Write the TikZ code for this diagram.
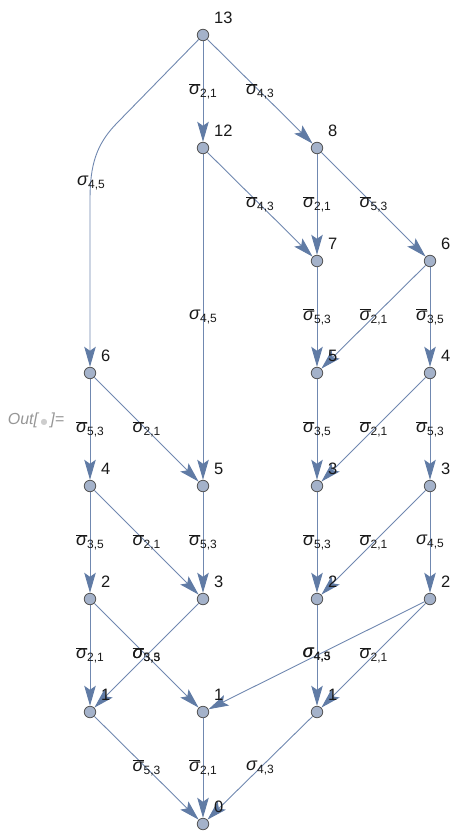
\documentclass[tikz,border=0pt]{standalone}
\usepackage{fontspec}
\setmainfont{Liberation Sans}
\newfontfamily\symfont{DejaVu Sans}
\usetikzlibrary{arrows.meta}

\definecolor{ecol}{RGB}{112,136,176}
\definecolor{acol}{RGB}{96,123,165}
\definecolor{vfill}{RGB}{164,178,202}
\definecolor{vline}{RGB}{85,85,85}
\definecolor{txt}{RGB}{25,25,25}
\definecolor{outgray}{RGB}{150,150,150}
\definecolor{dotgray}{RGB}{205,205,205}

% sigma labels: plain and barred, with a sans subscript
\newcommand\sigsub[1]{{\fontsize{12}{12}\selectfont\raisebox{-3pt}{#1}}}
\newcommand\osig[1]{$\overline{\mbox{\itshape σ}}$\sigsub{#1}}
\newcommand\psig[1]{{\itshape σ}\sigsub{#1}}

\tikzset{
  vtxspot/.style={circle, minimum size=12pt, inner sep=0pt, draw=none},
  vtxdisc/.style={circle, minimum size=11.5pt, inner sep=0pt, fill=vfill, draw=vline, line width=0.8pt},
  edge/.style={draw=ecol, line width=0.9pt,
    -{Stealth[length=20pt, width=11.5pt, inset=4pt, color=acol]}},
  elabel/.style={font=\fontsize{18}{18}\selectfont, inner sep=0pt, text=txt},
  vlabel/.style={font=\fontsize{16.5}{16.5}\selectfont, inner sep=0pt, anchor=south west, text=txt},
}

\begin{document}
\begin{tikzpicture}[x=1pt, y=-1pt]
\useasboundingbox (0,0) rectangle (451,834);

% vertex positions (invisible anchors; discs are drawn last)
\foreach \v/\x/\y in {n13/203/35, n12/203/148, n8/317/148, n7/317/261, n6a/430/261,
    n6b/90/373, n5a/317/373, n4a/430/373, n4b/90/486, n5b/203/486, n3a/317/486,
    n3b/430/486, n2a/90/599, n3c/203/599, n2b/317/599, n2c/430/599, n1a/90/712,
    n1b/203/712, n1c/317/712, n0/203/824}
  \node[vtxspot] (\v) at (\x,\y) {};

\node[font=\fontsize{16}{16}\selectfont\itshape, text=outgray, inner sep=0pt] (out) at (36,420)
  {Out[\,{\symfont\fontsize{8}{8}\selectfont\textcolor{dotgray}{●}}\,]=};

% edges
\draw[edge] (n13) -- node[elabel]{\osig{2,1}} (n12);
\draw[edge] (n13) -- node[elabel]{\osig{4,3}} (n8);
\draw[edge] (n13) -- (118,122) .. controls (96,144) and (90,165) .. (90,200) -- (n6b);
\node[elabel] (lab45) at (91,183) {\psig{4,5}};

\draw[edge] (n12) -- node[elabel]{\psig{4,5}} (n5b);
\draw[edge] (n12) -- node[elabel]{\osig{4,3}} (n7);
\draw[edge] (n8) -- node[elabel]{\osig{2,1}} (n7);
\draw[edge] (n8) -- node[elabel]{\osig{5,3}} (n6a);

\draw[edge] (n7) -- node[elabel]{\osig{5,3}} (n5a);
\draw[edge] (n6a) -- node[elabel]{\osig{2,1}} (n5a);
\draw[edge] (n6a) -- node[elabel]{\osig{3,5}} (n4a);

\draw[edge] (n6b) -- node[elabel]{\osig{5,3}} (n4b);
\draw[edge] (n6b) -- node[elabel]{\osig{2,1}} (n5b);
\draw[edge] (n5a) -- node[elabel]{\osig{3,5}} (n3a);
\draw[edge] (n4a) -- node[elabel]{\osig{2,1}} (n3a);
\draw[edge] (n4a) -- node[elabel]{\osig{5,3}} (n3b);

\draw[edge] (n4b) -- node[elabel]{\osig{3,5}} (n2a);
\draw[edge] (n4b) -- node[elabel]{\osig{2,1}} (n3c);
\draw[edge] (n5b) -- node[elabel]{\osig{5,3}} (n3c);
\draw[edge] (n3a) -- node[elabel]{\osig{5,3}} (n2b);
\draw[edge] (n3b) -- node[elabel]{\osig{2,1}} (n2b);
\draw[edge] (n3b) -- node[elabel]{\psig{4,5}} (n2c);

\draw[edge] (n2a) -- node[elabel]{\osig{2,1}} (n1a);
\draw[edge] (n2a) -- node[elabel]{\osig{5,3}} (n1b);
\draw[edge] (n3c) -- node[elabel]{\osig{3,5}} (n1a);
\draw[edge] (n2b) -- node[elabel]{\psig{4,5}} (n1c);
\draw[edge] (n2c) -- node[elabel]{\psig{4,3}} (n1b);
\draw[edge] (n2c) -- node[elabel]{\osig{2,1}} (n1c);

\draw[edge] (n1a) -- node[elabel]{\osig{5,3}} (n0);
\draw[edge] (n1b) -- node[elabel]{\osig{2,1}} (n0);
\draw[edge] (n1c) -- node[elabel]{\psig{4,3}} (n0);

% vertex discs and their numbers on top of the edges
\foreach \v/\t in {n13/13, n12/12, n8/8, n7/7, n6a/6, n6b/6, n5a/5, n4a/4, n4b/4,
    n5b/5, n3a/3, n3b/3, n2a/2, n3c/3, n2b/2, n2c/2, n1a/1, n1b/1, n1c/1, n0/0}{
  \node[vtxdisc] at (\v.center) {};
  \node[vlabel] (\v-num) at ([shift={(11,-11)}]\v.center) {\t};
}
\end{tikzpicture}
\end{document}
